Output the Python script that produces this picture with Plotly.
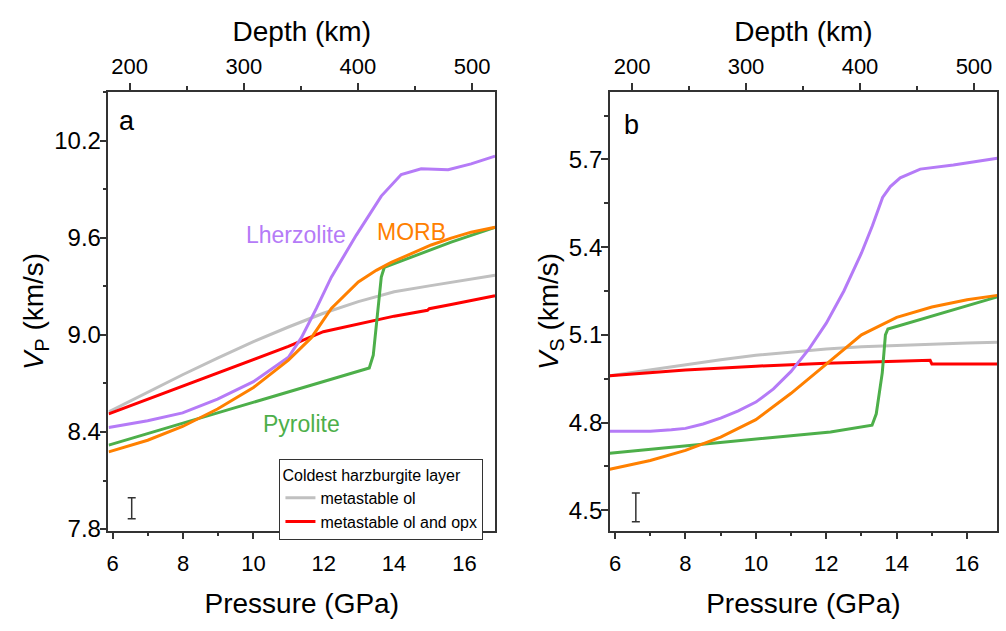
import plotly.graph_objects as go

# ---------------- data: panel a (VP) ----------------
pa_lherz = [5.886, 6.993, 7.987, 8.980, 10.002, 10.996, 11.365, 11.791, 12.216, 12.926, 13.636, 14.203, 14.771, 15.537, 16.190, 16.871]
va_lherz = [8.428, 8.470, 8.518, 8.603, 8.711, 8.862, 8.983, 9.164, 9.357, 9.617, 9.858, 9.991, 10.027, 10.021, 10.057, 10.105]

pa_morb = [5.886, 6.993, 7.987, 8.980, 10.002, 10.996, 11.649, 12.216, 12.983, 13.494, 13.920, 14.487, 15.055, 15.623, 16.190, 16.871]
va_morb = [8.277, 8.349, 8.434, 8.542, 8.675, 8.844, 8.983, 9.164, 9.327, 9.399, 9.448, 9.502, 9.556, 9.598, 9.635, 9.665]

pa_pyro = [5.886, 13.295, 13.408, 13.579, 13.636, 13.721, 15.623, 16.871]
va_pyro = [8.319, 8.796, 8.874, 9.212, 9.357, 9.417, 9.574, 9.665]

pa_ol = [5.886, 6.993, 7.987, 8.980, 10.002, 10.996, 11.989, 12.983, 14.004, 15.0, 15.992, 16.871]
va_ol = [8.524, 8.645, 8.754, 8.856, 8.959, 9.049, 9.134, 9.206, 9.267, 9.303, 9.339, 9.369]

pa_olopx = [5.886, 6.993, 7.987, 8.980, 10.002, 10.996, 11.989, 12.983, 14.004, 14.95, 15.0, 15.623, 16.871]
va_olopx = [8.512, 8.603, 8.684, 8.766, 8.850, 8.929, 9.020, 9.067, 9.116, 9.152, 9.162, 9.188, 9.242]

# ---------------- data: panel b (VS) ----------------
pb_lherz = [5.85, 7.0, 7.6, 8.0, 8.5, 9.0, 9.5, 10.0, 10.5, 11.0, 11.5, 12.0, 12.5, 13.0, 13.31, 13.6, 13.82, 14.10, 14.67, 15.61, 16.86]
vb_lherz = [4.77, 4.77, 4.775, 4.78, 4.795, 4.815, 4.84, 4.87, 4.915, 4.975, 5.05, 5.14, 5.25, 5.38, 5.473, 5.57, 5.607, 5.637, 5.667, 5.681, 5.704]

pb_morb = [5.85, 7, 8, 9, 10, 11, 12, 13, 14, 15, 16, 16.86]
vb_morb = [4.64, 4.67, 4.705, 4.75, 4.81, 4.90, 5.00, 5.10, 5.16, 5.195, 5.22, 5.235]

pb_pyro = [5.85, 12.12, 13.30, 13.42, 13.59, 13.68, 13.75, 16.86]
vb_pyro = [4.695, 4.768, 4.791, 4.83, 4.97, 5.10, 5.12, 5.23]

pb_ol = [5.85, 7, 8, 9, 10, 11, 12, 13, 14, 15, 16, 16.86]
vb_ol = [4.96, 4.98, 4.998, 5.015, 5.03, 5.042, 5.052, 5.059, 5.064, 5.068, 5.072, 5.075]

pb_olopx = [5.85, 8, 10, 12, 14, 14.95, 15.0, 16.86]
vb_olopx = [4.96, 4.98, 4.993, 5.003, 5.01, 5.013, 5.0, 5.0]

# error bars (representative uncertainty)
err_a = dict(p=6.54, v=7.929, e=0.065)
err_b = dict(p=6.59, v=4.51, e=0.049)

# tick labels
depth_ticks = [200, 300, 400, 500]
p_ticks = [6, 8, 10, 12, 14, 16]
va_ticks = [7.8, 8.4, 9.0, 9.6, 10.2]
vb_ticks = [4.5, 4.8, 5.1, 5.4, 5.7]

C_LHZ = "#B57BF7"
C_MORB = "#FF8000"
C_PYR = "#4DAF4A"
C_OL = "#C0C0C0"
C_OPX = "#FF0000"
AX = "#333333"
FONT = "Liberation Sans, Arial, sans-serif"

fig = go.Figure()

def add_line(x, y, color, xa, ya, name=None, legend=False):
    fig.add_trace(go.Scatter(x=x, y=y, mode="lines", line=dict(color=color, width=3),
                             xaxis=xa, yaxis=ya, name=name, showlegend=legend))

add_line(pa_ol, va_ol, C_OL, "x", "y", "metastable ol", True)
add_line(pa_olopx, va_olopx, C_OPX, "x", "y", "metastable ol and opx", True)
add_line(pa_lherz, va_lherz, C_LHZ, "x", "y")
add_line(pa_pyro, va_pyro, C_PYR, "x", "y")
add_line(pa_morb, va_morb, C_MORB, "x", "y")

add_line(pb_ol, vb_ol, C_OL, "x3", "y3")
add_line(pb_olopx, vb_olopx, C_OPX, "x3", "y3")
add_line(pb_lherz, vb_lherz, C_LHZ, "x3", "y3")
add_line(pb_pyro, vb_pyro, C_PYR, "x3", "y3")
add_line(pb_morb, vb_morb, C_MORB, "x3", "y3")

for e, xa, ya in [(err_a, "x", "y"), (err_b, "x3", "y3")]:
    fig.add_trace(go.Scatter(x=[e["p"]], y=[e["v"]], mode="markers",
                             marker=dict(size=1, color="rgba(0,0,0,0)"),
                             error_y=dict(type="data", array=[e["e"]], color=AX, thickness=1.5, width=4),
                             xaxis=xa, yaxis=ya, showlegend=False, hoverinfo="skip"))

fig.add_trace(go.Scatter(x=[300], y=[9.0], mode="markers", marker=dict(opacity=0), xaxis="x2", yaxis="y", showlegend=False, hoverinfo="skip"))
fig.add_trace(go.Scatter(x=[300], y=[5.0], mode="markers", marker=dict(opacity=0), xaxis="x4", yaxis="y3", showlegend=False, hoverinfo="skip"))

xtickfont = dict(family=FONT, size=22, color="black")
ytickfont = dict(family=FONT, size=24, color="black")
titlefont = dict(family=FONT, size=28, color="black")

common = dict(showline=True, linecolor=AX, linewidth=1.5, ticks="outside", ticklen=7, tickwidth=1.5,
              tickcolor=AX, showgrid=False, zeroline=False)

def minor(dt, t0=0):
    return dict(dtick=dt, tick0=t0, ticklen=4, tickwidth=1.5, tickcolor=AX, ticks="outside")

dom_a = [106.7 / 1006, 494 / 1006]
dom_b = [609 / 1006, 997 / 1006]
dom_y = [1 - 541 / 631, 1 - 94 / 631]

fig.update_layout(
    width=1006, height=631, margin=dict(l=0, r=0, t=0, b=0),
    plot_bgcolor="white", paper_bgcolor="white",
    font=dict(family=FONT, color="black"),
    xaxis=dict(domain=dom_a, range=[5.88, 16.87], tickvals=p_ticks, anchor="y", minor=minor(1),
               tickfont=xtickfont, ticklabelstandoff=5,
               title=dict(text="Pressure (GPa)", font=titlefont, standoff=19), **common),
    xaxis2=dict(overlaying="x", side="top", anchor="y", range=[181.4, 520.1], tickvals=depth_ticks,
                minor=minor(50), tickfont=xtickfont, ticklabelstandoff=1,
                title=dict(text="Depth (km)", font=titlefont, standoff=4), **common),
    yaxis=dict(domain=dom_y, range=[7.79, 10.5], tickvals=va_ticks, ticktext=[f"{v:.1f}" for v in va_ticks],
               anchor="x", mirror=True, minor=minor(0.3, 7.8), tickfont=ytickfont, ticklabelstandoff=-6,
               title=dict(text="<i>V</i><sub>P</sub> (km/s)", font=titlefont, standoff=2), **common),
    xaxis3=dict(domain=dom_b, range=[5.85, 16.85], tickvals=p_ticks, anchor="y3", minor=minor(1),
                tickfont=xtickfont, ticklabelstandoff=5,
                title=dict(text="Pressure (GPa)", font=titlefont, standoff=19), **common),
    xaxis4=dict(overlaying="x3", side="top", anchor="y3", range=[180.5, 520.2], tickvals=depth_ticks,
                minor=minor(50), tickfont=xtickfont, ticklabelstandoff=1,
                title=dict(text="Depth (km)", font=titlefont, standoff=4), **common),
    yaxis3=dict(domain=dom_y, range=[4.43, 5.93], tickvals=vb_ticks, ticktext=[f"{v:.1f}" for v in vb_ticks],
                anchor="x3", mirror=True, minor=minor(0.15, 4.5), tickfont=ytickfont, ticklabelstandoff=-6,
                title=dict(text="<i>V</i><sub>S</sub> (km/s)", font=titlefont, standoff=2), **common),
    legend=dict(x=278 / 1006, y=1 - 468 / 631, xanchor="left", yanchor="top",
                bgcolor="white", bordercolor=AX, borderwidth=1,
                font=dict(family=FONT, size=16, color="black"),
                title=dict(text="Coldest harzburgite layer", font=dict(family=FONT, size=16, color="black")),
                tracegroupgap=0, itemwidth=30),
    showlegend=True,
)

ann_font = dict(family=FONT, size=23)
fig.add_annotation(text="a", x=125 / 1006, y=1 - 123 / 631, xref="paper", yref="paper", showarrow=False,
                   xanchor="center", yanchor="middle", font=dict(family=FONT, size=27, color="black"))
fig.add_annotation(text="b", x=631 / 1006, y=1 - 127 / 631, xref="paper", yref="paper", showarrow=False,
                   xanchor="center", yanchor="middle", font=dict(family=FONT, size=27, color="black"))
fig.add_annotation(text="Lherzolite", x=11.22, y=9.617, xref="x", yref="y", showarrow=False,
                   font=dict(ann_font, color=C_LHZ))
fig.add_annotation(text="MORB", x=14.49, y=9.635, xref="x", yref="y", showarrow=False,
                   font=dict(ann_font, color=C_MORB))
fig.add_annotation(text="Pyrolite", x=11.36, y=8.45, xref="x", yref="y", showarrow=False,
                   font=dict(ann_font, color=C_PYR))

fig.write_html("out.html")
